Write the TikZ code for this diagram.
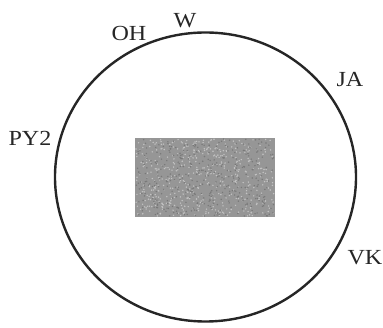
\documentclass[tikz,border=0pt]{standalone}
\usepackage{fontspec}
\setmainfont{Liberation Serif}
\usetikzlibrary{shapes.geometric}
\definecolor{noisegray}{RGB}{150,150,150}
\definecolor{darkspeck}{RGB}{120,120,120}
\definecolor{lightspeck}{RGB}{195,195,195}
\begin{document}
\begin{tikzpicture}[x=1pt,y=-1pt,
  lbl/.style={font=\fontsize{21.5}{24}\selectfont, inner sep=0pt, text=black!85},
  rim/.style={draw=black!85, line width=2.4pt}]
\useasboundingbox (0,0) rectangle (383,328);
\node[rim, ellipse, minimum width=301pt, minimum height=289pt, inner sep=0pt] (ring) at (205.5,177) {};
\fill[noisegray] (135,138) rectangle (275,217);
\pgfmathsetseed{7}
\foreach \i in {1,...,500}{
  \pgfmathsetmacro{\px}{136+138*rnd}
  \pgfmathsetmacro{\py}{139+77*rnd}
  \fill[lightspeck] (\px,\py) circle (0.8pt);
}
\foreach \i in {1,...,400}{
  \pgfmathsetmacro{\px}{136+138*rnd}
  \pgfmathsetmacro{\py}{139+77*rnd}
  \fill[darkspeck] (\px,\py) circle (0.8pt);
}
\node[lbl] (OH) at (129,33) {\scalebox{1.12}[1]{OH}};
\node[lbl] (W) at (185,21) {\scalebox{1.12}[1]{W}};
\node[lbl] (JA) at (350,80) {\scalebox{1.12}[1]{JA}};
\node[lbl] (PY2) at (30,138) {\scalebox{1.12}[1]{PY2}};
\node[lbl] (VK) at (365,258) {\scalebox{1.12}[1]{VK}};
\end{tikzpicture}
\end{document}
